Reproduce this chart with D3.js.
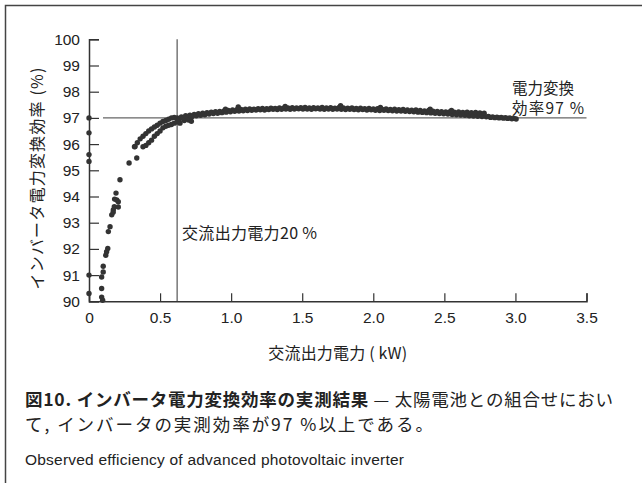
<!DOCTYPE html>
<html><head><meta charset="utf-8">
<script src="https://cdn.jsdelivr.net/npm/d3@7/dist/d3.min.js"></script>
<style>
body{margin:0;background:#fff;}
svg{display:block;}
</style></head>
<body>
<svg id="c" width="642" height="483"></svg>
<script>
// ---- data ----
const xTicks = [0, 0.5, 1.0, 1.5, 2.0, 2.5, 3.0, 3.5];
const xTickLabels = ["0", "0.5", "1.0", "1.5", "2.0", "2.5", "3.0", "3.5"];
const yTicks = [90, 91, 92, 93, 94, 95, 96, 97, 98, 99, 100];

// low-load region (kW, %)
const lowKW  = [0,0,0,0,0,0, 0.089,0.096,0.089,0.089,0.10,0.10,0.118,0.124,0.132,0.136,0.148,0.16,0.171,0.178,0.195,0.206,0.19,0.18,0.17,0.206,0.218,0.282,0.336,0.324];
const lowEff = [97.0,96.43,95.6,95.34,91.0,90.3, 90.16,90.04,90.49,90.93,91.12,91.34,91.76,91.89,92.02,92.66,92.85,93.3,93.49,93.61,93.87,93.8,94.13,93.9,93.4,93.6,94.64,95.28,95.47,95.91];

// two bands between 0.3 and 0.75 kW
const bandUpperKW  = [0.32,0.34,0.36,0.38,0.40,0.42,0.44,0.46,0.48,0.50,0.52,0.54,0.56,0.58,0.60];
const bandUpperEff = [95.9,96.05,96.2,96.3,96.4,96.5,96.58,96.65,96.72,96.8,96.86,96.9,96.95,97.0,97.02];
const bandLowerKW  = [0.38,0.40,0.42,0.44,0.46,0.48,0.50,0.52,0.54,0.56,0.58,0.60,0.62,0.64,0.67,0.70,0.72];
const bandLowerEff = [95.9,95.95,96.05,96.15,96.3,96.4,96.5,96.62,96.68,96.72,96.75,96.8,96.85,96.8,96.9,96.92,96.87];

// main plateau (two readings per power level)
const mainKW = [0.62,0.65,0.68,0.71,0.74,0.77,0.80,0.83,0.86,0.89,0.92,0.95,0.98,1.01,1.04,1.07,1.10,1.13,1.16,1.19,1.22,1.25,1.28,1.31,1.34,1.37,1.40,1.43,1.46,1.49,1.52,1.55,1.58,1.61,1.64,1.67,1.70,1.73,1.76,1.79,1.82,1.85,1.88,1.91,1.94,1.97,2.00,2.03,2.06,2.09,2.12,2.15,2.18,2.21,2.24,2.27,2.30,2.33,2.36,2.39,2.42,2.45,2.48,2.51,2.54,2.57,2.60,2.63,2.66,2.69,2.72,2.75,2.78,2.81,2.84,2.87,2.90,2.93,2.96,2.99];
const mainEffA = [97.00,97.04,97.08,97.10,97.13,97.16,97.18,97.20,97.22,97.24,97.25,97.27,97.28,97.30,97.31,97.32,97.33,97.34,97.33,97.35,97.36,97.35,97.37,97.36,97.38,97.37,97.38,97.39,97.38,97.39,97.40,97.38,97.39,97.38,97.40,97.38,97.39,97.37,97.40,97.38,97.37,97.38,97.36,97.37,97.35,97.36,97.34,97.35,97.33,97.34,97.32,97.33,97.31,97.32,97.30,97.29,97.30,97.28,97.27,97.28,97.26,97.25,97.24,97.23,97.24,97.22,97.23,97.21,97.22,97.20,97.21,97.19,97.18,97.06,97.04,97.03,97.02,97.01,97.00,96.98];
const mainEffB = [96.95,97.00,97.02,97.05,97.08,97.10,97.12,97.15,97.17,97.18,97.20,97.22,97.23,97.25,97.26,97.27,97.28,97.29,97.30,97.31,97.30,97.32,97.33,97.32,97.33,97.34,97.33,97.34,97.35,97.34,97.34,97.33,97.35,97.34,97.33,97.34,97.33,97.34,97.33,97.32,97.33,97.32,97.31,97.32,97.30,97.31,97.29,97.28,97.29,97.28,97.27,97.26,97.26,97.25,97.24,97.23,97.22,97.21,97.20,97.19,97.18,97.17,97.16,97.15,97.13,97.12,97.11,97.10,97.08,97.07,97.06,97.05,97.04,97.02,97.01,97.00,96.99,96.98,96.97,96.96];
// a few spikes
const spikeKW  = [0.72,0.96,1.05,1.38,1.77,2.05,2.40,2.55];
const spikeEff = [97.05,97.33,97.42,97.44,97.47,97.40,97.33,97.28];

const refEff = 97;          // 97 % reference line
const refKW = 0.62;         // 20 % of rated output

// ---- drawing ----
const svg = d3.select("#c");
const x = d3.scaleLinear().domain([0, 3.5]).range([89, 586.5]);
const y = d3.scaleLinear().domain([90, 100]).range([301.3, 39.3]);
const ink = "#333";
const numFont = "'Liberation Sans', Arial, sans-serif";
const jpFont = "'Noto Sans CJK JP', sans-serif";

// frame
svg.append("path").attr("d", "M5.5,483 V5.5 H642").attr("fill", "none").attr("stroke", "#444").attr("stroke-width", 1.5);

// reference lines
svg.append("line").attr("x1", 103).attr("x2", x(3.5)).attr("y1", y(refEff)).attr("y2", y(refEff))
  .attr("stroke", "#666").attr("stroke-width", 1.3);
svg.append("line").attr("x1", x(refKW)).attr("x2", x(refKW)).attr("y1", y(100)).attr("y2", y(90))
  .attr("stroke", "#555").attr("stroke-width", 1.2);

// axes
const gx = svg.append("g").attr("transform", `translate(0,${y(90)})`)
  .call(d3.axisBottom(x).tickValues(xTicks).tickFormat((d, i) => xTickLabels[i]).tickSizeInner(-8).tickSizeOuter(-8).tickPadding(11));
const gy = svg.append("g").attr("transform", `translate(${x(0)},0)`)
  .call(d3.axisLeft(y).tickValues(yTicks).tickSizeInner(-10).tickSizeOuter(-10).tickPadding(9));
[gx, gy].forEach(g => {
  g.select(".domain").attr("stroke", ink).attr("stroke-width", 1.5);
  g.selectAll(".tick line").attr("stroke", ink).attr("stroke-width", 1.2);
  g.selectAll(".tick text").attr("fill", "#222").attr("font-family", numFont).attr("font-size", 15.5);
});
gx.selectAll(".tick text").attr("dy", "0.71em");

// points
const pts = [];
lowKW.forEach((k, i) => pts.push([k, lowEff[i]]));
bandUpperKW.forEach((k, i) => pts.push([k, bandUpperEff[i]]));
bandLowerKW.forEach((k, i) => pts.push([k, bandLowerEff[i]]));
mainKW.forEach((k, i) => { pts.push([k, mainEffA[i]]); pts.push([k + 0.015, mainEffB[i]]); });
spikeKW.forEach((k, i) => pts.push([k, spikeEff[i]]));
svg.append("g").selectAll("circle").data(pts).join("circle")
  .attr("cx", d => x(d[0])).attr("cy", d => y(d[1])).attr("r", 2.7).attr("fill", ink);

// axis titles
svg.append("text").attr("x", x(1.75)).attr("y", 359).attr("text-anchor", "middle")
  .attr("font-family", jpFont).attr("font-size", 16).attr("fill", "#222")
  .attr("textLength", 139).attr("lengthAdjust", "spacing").text("交流出力電力 ( kW)");
svg.append("text").attr("transform", "translate(43,178.5) rotate(-90)").attr("text-anchor", "middle")
  .attr("font-family", jpFont).attr("font-size", 16).attr("fill", "#222")
  .attr("textLength", 222).attr("lengthAdjust", "spacing").text("インバータ電力変換効率 (%)");

// annotations
const ann = svg.append("g").attr("font-family", jpFont).attr("font-size", 15.5).attr("fill", "#222");
ann.append("text").attr("x", 512).attr("y", 94).text("電力変換");
ann.append("text").attr("x", 512).attr("y", 114).attr("textLength", 72).attr("lengthAdjust", "spacing").text("効率97 %");
ann.append("text").attr("x", 182).attr("y", 239).attr("font-size", 16).attr("textLength", 135).attr("lengthAdjust", "spacing").text("交流出力電力20 %");

// caption
const cap = svg.append("g").attr("font-family", jpFont).attr("fill", "#222");
const l1 = cap.append("text").attr("x", 25).attr("y", 406).attr("font-size", 17.5)
  .attr("textLength", 588).attr("lengthAdjust", "spacing");
l1.append("tspan").attr("font-weight", "bold").text("図10.  インバータ電力変換効率の実測結果");
l1.append("tspan").text(" — 太陽電池との組合せにおい");
cap.append("text").attr("x", 25).attr("y", 431).attr("font-size", 17.5)
  .attr("textLength", 408).attr("lengthAdjust", "spacing").text("て, インバータの実測効率が97 %以上である。");
cap.append("text").attr("x", 25).attr("y", 465).attr("font-size", 15.5).attr("font-family", numFont)
  .attr("textLength", 379).attr("lengthAdjust", "spacing")
  .text("Observed efficiency of advanced photovoltaic inverter");
</script>
</body></html>
